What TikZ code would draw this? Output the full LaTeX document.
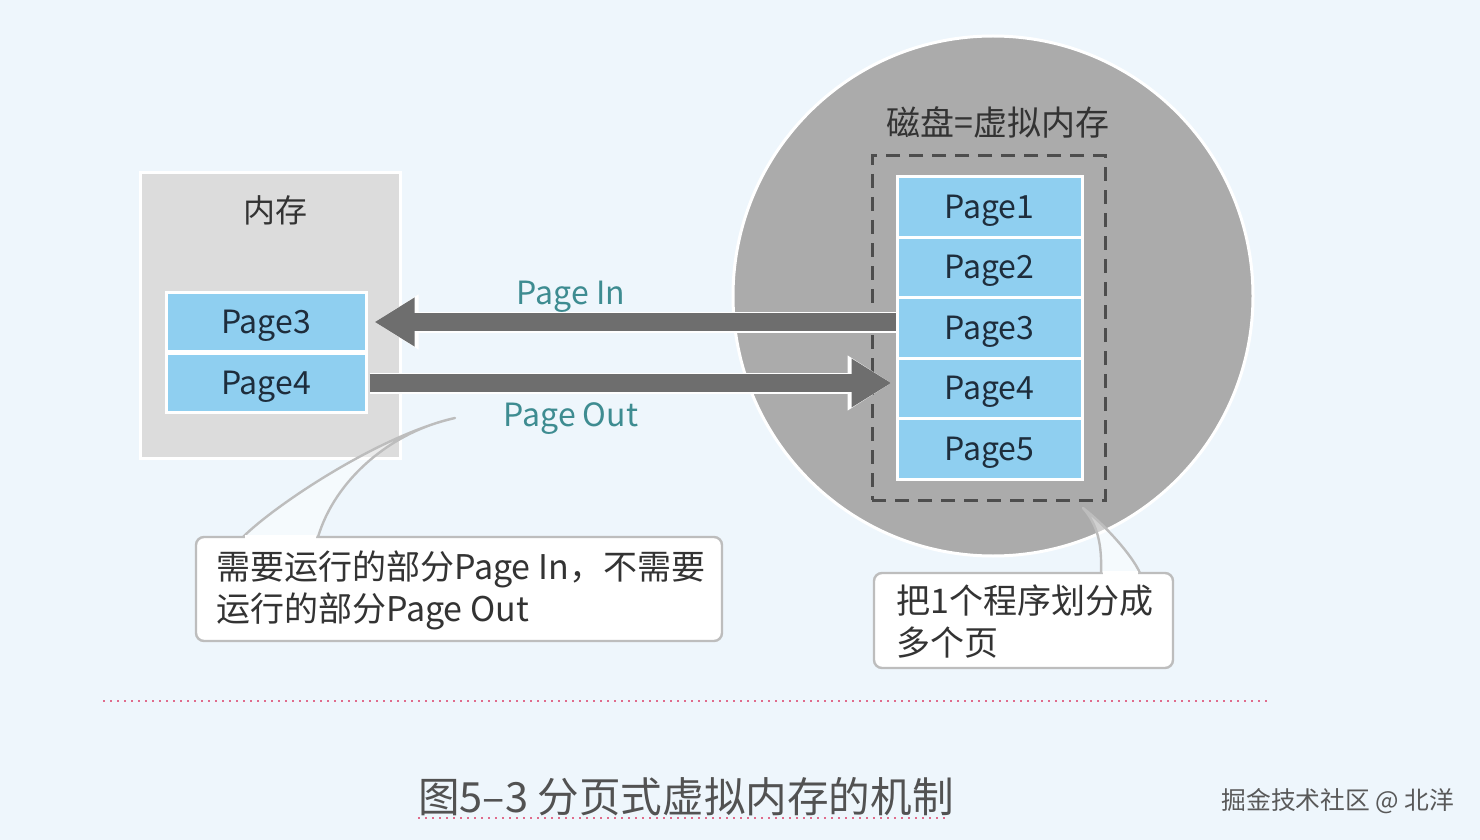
\documentclass[tikz,border=0pt]{standalone}
\usepackage{fontspec}
\setmainfont{Noto Sans CJK SC}
\usetikzlibrary{calc,arrows.meta}
\definecolor{bgc}{HTML}{EEF6FC}
\definecolor{memgray}{HTML}{DCDCDC}
\definecolor{diskgray}{HTML}{ABABAB}
\definecolor{pageblue}{HTML}{8FCFF0}
\definecolor{pagetext}{HTML}{1E2D3C}
\definecolor{arrowc}{HTML}{6E6E6E}
\definecolor{tealc}{HTML}{3E8C91}
\definecolor{dashc}{HTML}{4D4D4D}
\definecolor{callc}{HTML}{BDBDBD}
\definecolor{pinkc}{HTML}{E06C8C}
\definecolor{darktext}{HTML}{333333}
\begin{document}
\begin{tikzpicture}[x=0.5pt,y=-0.5pt,
  pagebox/.style={rectangle, fill=pageblue, draw=white, line width=1.5pt, inner sep=0pt,
    font=\fontsize{16}{18}\selectfont, text=pagetext, text height=11.2pt, text depth=0pt},
  mempage/.style={pagebox, minimum width=100pt, minimum height=29.5pt},
  diskpage/.style={pagebox, minimum width=92.5pt, minimum height=30.25pt},
  bigarrow/.style={draw=arrowc, line width=9pt, -{Triangle[length=20pt,width=23pt]}},
  arrowrim/.style={draw=white, line width=10.5pt, -{Triangle[length=22pt,width=26pt]}},
  callbox/.style={rectangle, rounded corners=4pt, fill=white, draw=callc, line width=1.2pt, inner sep=0pt},
  calltext/.style={anchor=west, align=left, inner sep=0pt, text=darktext,
    font=\fontsize{17}{21}\selectfont},
  arrowlabel/.style={text=tealc, font=\fontsize{16}{18}\selectfont, inner sep=0pt, text height=11.2pt, text depth=0pt},
  tailshape/.style={fill=white, fill opacity=0.45, draw=callc, line width=1.2pt, line join=round}
]
\fill[bgc] (0,0) rectangle (1480,840);
\useasboundingbox (0,0) rectangle (1480,840);

% memory
\node[rectangle, fill=memgray, draw=white, line width=1.5pt, minimum width=130pt, minimum height=142.5pt, inner sep=0pt] (mem) at (270,315.5) {};
\node[text=darktext, font=\fontsize{16}{18}\selectfont, inner sep=0pt] (memlabel) at (275,210) {内存};
\node[mempage] (m3) at (266,322) {Page3};
\node[mempage] (m4) at (266,383) {Page4};

% disk
\node[circle, fill=diskgray, draw=white, line width=1.5pt, minimum size=260pt, inner sep=0pt] (disk) at (993,296) {};
\node[text=darktext, font=\fontsize{17}{19}\selectfont, inner sep=0pt] (disklabel) at (998,122) {磁盘=虚拟内存};
\node[rectangle, draw=dashc, line width=1.5pt, dash pattern=on 7pt off 4.5pt, minimum width=116.5pt, minimum height=172pt, inner sep=0pt] (dbox) at (988.5,328) {};
\node[diskpage] (d1) at (989.5,207) {Page1};
\node[diskpage] (d2) at (989.5,267.5) {Page2};
\node[diskpage] (d3) at (989.5,328) {Page3};
\node[diskpage] (d4) at (989.5,388.5) {Page4};
\node[diskpage] (d5) at (989.5,449) {Page5};

% arrows
\draw[arrowrim, shorten >=3.5pt] (m3.east -| d3.west) -- (m3.east);
\draw[bigarrow, shorten >=3.5pt] (m3.east -| d3.west) -- (m3.east);
\draw[arrowrim, shorten <=1pt, shorten >=2pt] (m4.east) -- (m4.east -| d4.west);
\draw[bigarrow, shorten <=1pt, shorten >=2pt] (m4.east) -- (m4.east -| d4.west);
\node[arrowlabel] (inlabel) at (571,293) {Page In};
\node[arrowlabel] (outlabel) at (571,415) {Page Out};

% callout 1
\node[callbox, minimum width=263pt, minimum height=52pt] (c1) at (459,589) {};
\coordinate (t1a) at (243,537);
\coordinate (t1tip) at (455,418);
\coordinate (t1b) at (318,537);
\draw[tailshape] (t1a) .. controls (275,505) and (380,435) .. (t1tip)
  .. controls (390,432) and (335,480) .. (t1b);
\draw[white, line width=1.6pt] ($(t1a)+(2,0)$) -- ($(t1b)+(-2,0)$);
\node[calltext] (c1t) at ($(c1.west)+(10.5pt,1.5)$) {需要运行的部分Page In，不需要\\运行的部分Page Out};

% callout 2
\node[callbox, minimum width=149.5pt, minimum height=47.5pt] (c2) at (1023.5,620.5) {};
\coordinate (t2a) at (1101,573);
\coordinate (t2tip) at (1083,508);
\coordinate (t2b) at (1140,573);
\draw[tailshape] (t2a) .. controls (1102,545) and (1098,525) .. (t2tip)
  .. controls (1105,525) and (1132,555) .. (t2b);
\draw[white, line width=1.6pt] ($(t2a)+(2,0)$) -- ($(t2b)+(-2,0)$);
\node[calltext] (c2t) at ($(c2.west)+(11.5pt,1.5)$) {把1个程序划分成\\多个页};

% separator and caption
\coordinate (sepL) at (103,701);
\coordinate (sepR) at (1270,701);
\draw[pinkc, line width=1pt, dash pattern=on 1pt off 2.5pt] (sepL) -- (sepR);
\node[text=darktext!85, font=\fontsize{20.8}{22}\selectfont, inner sep=0pt] (cap) at (686,797) {图5–3 分页式虚拟内存的机制};
\coordinate (capL) at (418,818);
\coordinate (capR) at (950,818);
\draw[pinkc, line width=1pt, dash pattern=on 1pt off 2.5pt] (capL) -- (capR);
\node[text=black!65, font=\fontsize{12.4}{14}\selectfont, inner sep=0pt] (wm) at (1338,801) {掘金技术社区 @ 北洋};
\end{tikzpicture}
\end{document}
